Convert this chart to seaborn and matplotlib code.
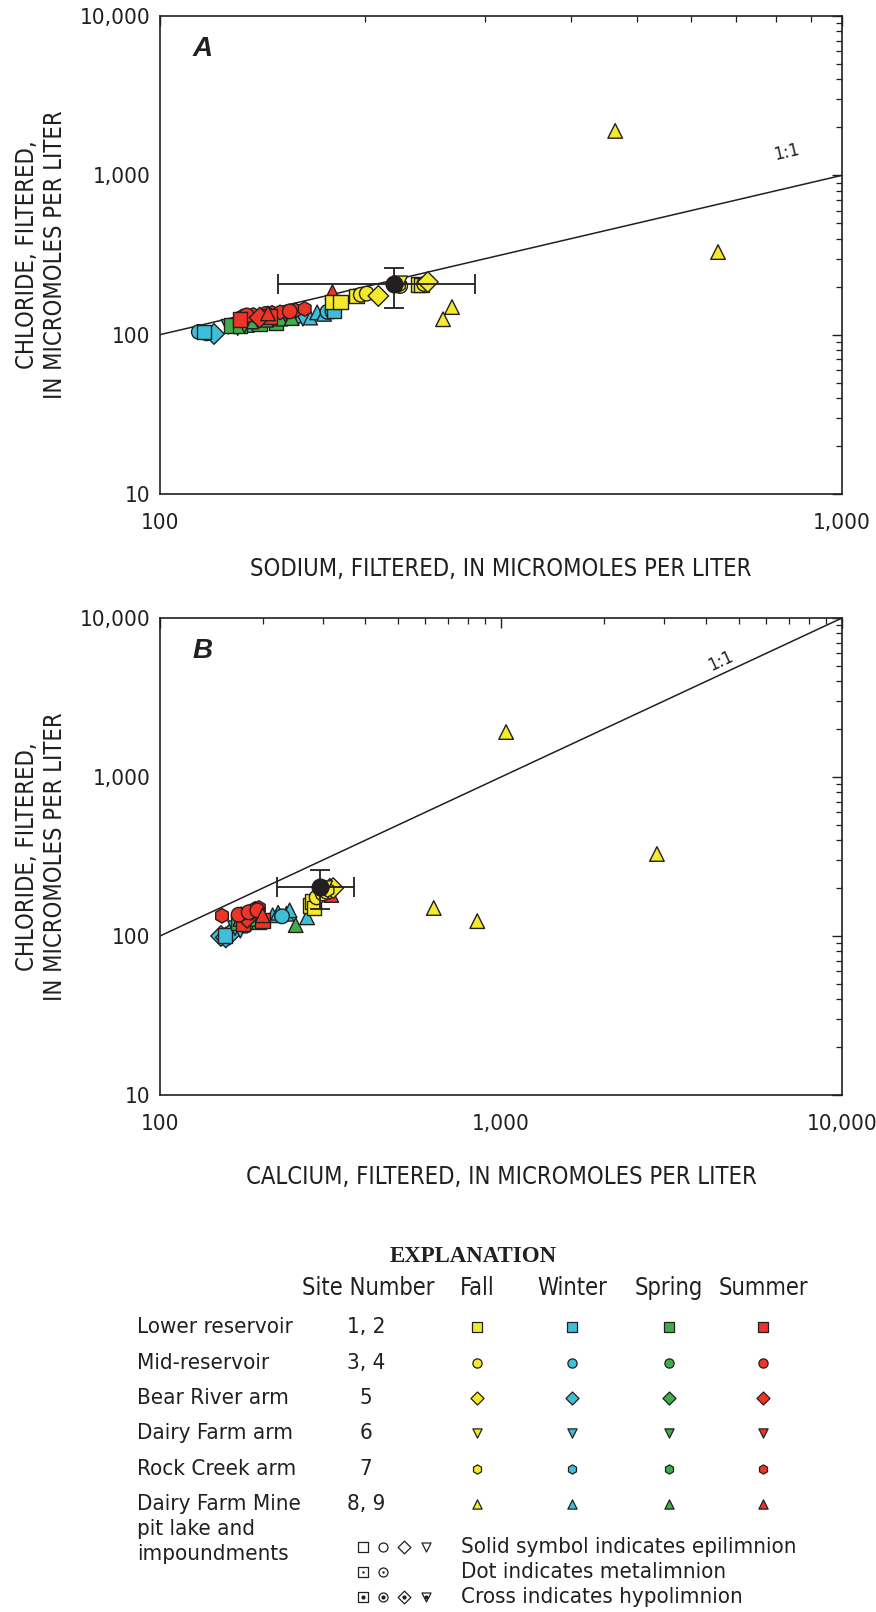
import numpy as np
import pandas as pd
import matplotlib
matplotlib.use("Agg")
import matplotlib.pyplot as plt
import seaborn as sns
from matplotlib import font_manager as fm
from matplotlib.ticker import FixedLocator, LogLocator, NullFormatter

sns.set_theme(style="white")


def pick_font():
    try:
        p = fm.findfont(fm.FontProperties(family='Liberation Sans Narrow'), fallback_to_default=False)
        if 'Narrow' in p:
            return ['Liberation Sans Narrow', 'DejaVu Sans'], 'normal'
    except Exception:
        pass
    try:
        p = fm.findfont(fm.FontProperties(family='DejaVu Sans', stretch='condensed'), fallback_to_default=False)
        if 'Condensed' in p:
            return ['DejaVu Sans'], 'condensed'
    except Exception:
        pass
    return ['Liberation Sans', 'DejaVu Sans'], 'normal'


NARROW, STRETCH = pick_font()
plt.rcParams['font.family'] = NARROW
plt.rcParams['font.stretch'] = STRETCH

# ---------------- data ----------------
# Panel A: sodium (x) vs chloride (y), micromoles per liter
a_site = (['Mid-reservoir', 'Mid-reservoir', 'Bear River arm', 'Lower reservoir', 'Dairy Farm arm', 'Dairy Farm arm',
           'Dairy Farm Mine', 'Dairy Farm Mine', 'Dairy Farm Mine', 'Dairy Farm Mine', 'Dairy Farm Mine', 'Dairy Farm Mine',
           'Dairy Farm Mine', 'Dairy Farm Mine', 'Mid-reservoir', 'Mid-reservoir', 'Lower reservoir', 'Dairy Farm arm']
          + ['Lower reservoir', 'Lower reservoir', 'Lower reservoir', 'Lower reservoir', 'Dairy Farm Mine', 'Dairy Farm Mine',
             'Dairy Farm Mine', 'Dairy Farm Mine', 'Dairy Farm arm']
          + ['Rock Creek arm', 'Rock Creek arm', 'Rock Creek arm', 'Rock Creek arm', 'Rock Creek arm', 'Rock Creek arm',
             'Mid-reservoir', 'Mid-reservoir', 'Mid-reservoir', 'Lower reservoir', 'Lower reservoir', 'Bear River arm',
             'Dairy Farm Mine', 'Dairy Farm Mine']
          + ['Lower reservoir', 'Lower reservoir', 'Lower reservoir', 'Lower reservoir', 'Lower reservoir', 'Mid-reservoir',
             'Mid-reservoir', 'Mid-reservoir', 'Mid-reservoir', 'Bear River arm', 'Bear River arm', 'Rock Creek arm',
             'Dairy Farm arm', 'Dairy Farm Mine', 'Dairy Farm Mine', 'Dairy Farm Mine', 'Dairy Farm Mine'])
a_season = ['Winter'] * 18 + ['Spring'] * 9 + ['Summer'] * 14 + ['Fall'] * 17
a_sodium = ([114, 117, 120, 116, 130, 126, 134, 140, 151, 156, 161, 166, 170, 174, 176, 179, 180, 162]
            + [127, 131, 140, 148, 136, 143, 150, 156, 133]
            + [132, 137, 146, 150, 158, 163, 134, 143, 155, 131, 145, 140, 144, 179]
            + [179, 184, 194, 239, 242, 197, 201, 225, 244, 209, 247, 224, 225, 268, 260, 465, 658])
a_chloride = ([104, 102, 101, 104, 110, 112, 115, 118, 127, 130, 132, 128, 138, 135, 139, 140, 141, 126]
              + [114, 113, 117, 119, 121, 124, 126, 127, 114]
              + [130, 133, 137, 138, 142, 145, 132, 135, 140, 125, 130, 128, 136, 185]
              + [160, 160, 175, 207, 205, 178, 181, 202, 208, 175, 214, 205, 210, 149, 125, 1900, 330])
a_mean = (220, 208)
a_mean_xrange = (149, 290)
a_mean_yrange = (147, 262)

# Panel B: calcium (x) vs chloride (y)
b_site = (['Bear River arm', 'Bear River arm', 'Bear River arm', 'Lower reservoir', 'Dairy Farm arm', 'Dairy Farm arm',
           'Dairy Farm Mine', 'Dairy Farm Mine', 'Dairy Farm Mine', 'Dairy Farm Mine', 'Dairy Farm Mine',
           'Mid-reservoir', 'Mid-reservoir']
          + ['Lower reservoir', 'Lower reservoir', 'Dairy Farm arm', 'Dairy Farm Mine', 'Dairy Farm Mine',
             'Dairy Farm Mine', 'Dairy Farm Mine']
          + ['Lower reservoir', 'Lower reservoir', 'Bear River arm', 'Rock Creek arm', 'Rock Creek arm', 'Rock Creek arm',
             'Rock Creek arm', 'Rock Creek arm', 'Mid-reservoir', 'Mid-reservoir', 'Mid-reservoir',
             'Dairy Farm Mine', 'Dairy Farm Mine']
          + ['Lower reservoir', 'Lower reservoir', 'Lower reservoir', 'Mid-reservoir', 'Mid-reservoir', 'Mid-reservoir',
             'Bear River arm', 'Bear River arm', 'Rock Creek arm', 'Dairy Farm arm', 'Dairy Farm Mine', 'Dairy Farm Mine',
             'Dairy Farm Mine', 'Dairy Farm Mine'])
b_season = ['Winter'] * 13 + ['Spring'] * 7 + ['Summer'] * 13 + ['Fall'] * 14
b_calcium = ([151, 156, 160, 155, 166, 172, 214, 222, 235, 240, 270, 228, 178]
             + [170, 195, 180, 172, 192, 200, 250]
             + [175, 200, 180, 152, 173, 185, 190, 195, 170, 182, 193, 200, 318]
             + [275, 280, 283, 288, 300, 308, 315, 322, 310, 305, 1035, 2866, 635, 852])
b_chloride = ([100, 98, 102, 101, 112, 108, 135, 140, 138, 145, 131, 133, 116]
              + [122, 123, 118, 128, 128, 130, 117]
              + [120, 125, 130, 134, 137, 140, 148, 150, 136, 141, 145, 135, 181]
              + [155, 165, 150, 175, 185, 190, 198, 200, 195, 200, 1918, 328, 150, 124])
b_mean = (294, 203)
b_mean_xrange = (220, 371)
b_mean_yrange = (148, 260)

seasons = ['Fall', 'Winter', 'Spring', 'Summer']
season_colors = ['#f4ea2c', '#3dbfd9', '#3fae4a', '#ee3327']
sites = ['Lower reservoir', 'Mid-reservoir', 'Bear River arm', 'Dairy Farm arm', 'Rock Creek arm', 'Dairy Farm Mine']
site_numbers = ['1, 2', '3, 4', '5', '6', '7', '8, 9']
site_markers = ['s', 'o', 'D', 'v', 'h', '^']
tick_values = [10, 100, 1000, 10000]
tick_labels = ['10', '100', '1,000', '10,000']

palette = dict(zip(seasons, season_colors))
markers = dict(zip(sites, site_markers))
EDGE = '#231f20'

W, H = 876, 1612
fig = plt.figure(figsize=(W / 100, H / 100), dpi=100)


def fx(px):
    return px / W


def fy(py):
    return 1 - py / H


def setup_axes(ax, xmax):
    ax.set_xscale('log')
    ax.set_yscale('log')
    ax.set_xlim(100, xmax)
    ax.set_ylim(10, 10000)
    xt = [v for v in tick_values if 100 <= v <= xmax]
    ax.xaxis.set_major_locator(FixedLocator(xt))
    ax.set_xticklabels([tick_labels[tick_values.index(v)] for v in xt])
    ax.yaxis.set_major_locator(FixedLocator(tick_values))
    ax.set_yticklabels(tick_labels)
    ax.xaxis.set_minor_locator(LogLocator(base=10, subs=np.arange(2, 10)))
    ax.yaxis.set_minor_locator(LogLocator(base=10, subs=np.arange(2, 10)))
    ax.xaxis.set_minor_formatter(NullFormatter())
    ax.yaxis.set_minor_formatter(NullFormatter())
    ax.tick_params(which='both', direction='in', top=True, right=True, colors='#231f20',
                   labelcolor='#231f20', labelsize=16)
    ax.tick_params(which='major', length=7, width=1.0)
    ax.tick_params(which='minor', length=4, width=0.9)
    ax.tick_params(axis='y', pad=7)
    ax.tick_params(axis='x', pad=14)
    for sp in ax.spines.values():
        sp.set_color('#231f20')
        sp.set_linewidth(1.2)
        sp.set_visible(True)
    ax.set_facecolor('white')


def draw_panel(ax, xs, ys, site, season, xlabel, xmax, mean, xr, yr, letter, lbl_pos, lbl_rot, xlabelpad):
    df = pd.DataFrame({'x': xs, 'y': ys, 'site': site, 'season': season})
    ax.plot([100, xmax], [100, xmax], color='#231f20', lw=1.1, zorder=1)
    ax.text(lbl_pos[0], lbl_pos[1], '1:1', rotation=lbl_rot, fontsize=13, color='#231f20',
            ha='center', va='center')
    sns.scatterplot(data=df, x='x', y='y', hue='season', style='site', palette=palette, markers=markers,
                    hue_order=seasons, style_order=sites, s=110, edgecolor=EDGE, linewidth=1.0,
                    legend=False, ax=ax, zorder=3)
    ax.errorbar([mean[0]], [mean[1]],
                xerr=[[mean[0] - xr[0]], [xr[1] - mean[0]]],
                yerr=[[mean[1] - yr[0]], [yr[1] - mean[1]]],
                fmt='o', color='#231f20', ms=12, capsize=7, elinewidth=1.3, capthick=1.3, zorder=4)
    setup_axes(ax, xmax)
    ax.set_xlabel(xlabel, fontsize=17, color='#231f20', labelpad=xlabelpad)
    ax.set_ylabel('CHLORIDE, FILTERED,\nIN MICROMOLES PER LITER', fontsize=17, color='#231f20',
                  labelpad=9, linespacing=1.2)
    ax.text(0.048, 0.93, letter, transform=ax.transAxes, fontsize=20, fontweight='bold',
            fontstyle='italic', family=['Liberation Sans', 'DejaVu Sans'], fontstretch='normal',
            color='#231f20', ha='left', va='center')


axA = fig.add_axes([fx(160), fy(494), (842 - 160) / W, (494 - 16) / H])
draw_panel(axA, a_sodium, a_chloride, a_site, a_season, 'SODIUM, FILTERED, IN MICROMOLES PER LITER',
           1000, a_mean, a_mean_xrange, a_mean_yrange, 'A', (830, 1400), 13, 17)

axB = fig.add_axes([fx(160), fy(1095), (842 - 160) / W, (1095 - 618) / H])
draw_panel(axB, b_calcium, b_chloride, b_site, b_season, 'CALCIUM, FILTERED, IN MICROMOLES PER LITER',
           10000, b_mean, b_mean_xrange, b_mean_yrange, 'B', (4400, 5400), 25, 22)

# ---------------- explanation ----------------
lg = fig.add_axes([0, 0, 1, 1], zorder=-1)
lg.set_xlim(0, W)
lg.set_ylim(H, 0)
lg.axis('off')

TC = '#231f20'
lg.text(473, 1256, 'EXPLANATION', ha='center', va='center', fontsize=16.5, fontweight='bold',
        family=['Liberation Serif', 'DejaVu Serif'], fontstretch='normal', color=TC)
col_x = [477, 572, 669, 763]
lg.text(368, 1288, 'Site Number', ha='center', va='center', fontsize=17, color=TC)
for cx, sname in zip(col_x, seasons):
    lg.text(cx, 1288, sname, ha='center', va='center', fontsize=17, color=TC)

row_y = [1327, 1363, 1398, 1433, 1469, 1504]
for ry, sname, snum, mk in zip(row_y, sites, site_numbers, site_markers):
    lg.text(137, ry, sname, ha='left', va='center', fontsize=16, color=TC)
    lg.text(366, ry, snum, ha='center', va='center', fontsize=16, color=TC)
    for cx, col in zip(col_x, season_colors):
        lg.scatter([cx], [ry], marker=mk, s=44, c=[col], edgecolors=EDGE, linewidths=0.9)
lg.text(137, 1529, 'pit lake and', ha='left', va='center', fontsize=16, color=TC)
lg.text(137, 1554, 'impoundments', ha='left', va='center', fontsize=16, color=TC)

sym_x = [363, 383, 404, 426]
sym_rows = [1547, 1572, 1597]
sym_mk = [['s', 'o', 'D', 'v'], ['s', 'o'], ['s', 'o', 'D', 'v']]
sym_txt = ['Solid symbol indicates epilimnion', 'Dot indicates metalimnion', 'Cross indicates hypolimnion']
for k, (ry, mks, txt) in enumerate(zip(sym_rows, sym_mk, sym_txt)):
    for cx, mk in zip(sym_x, mks):
        lg.scatter([cx], [ry], marker=mk, s=42, c='white', edgecolors=EDGE, linewidths=0.9)
        if k == 1:
            lg.scatter([cx], [ry], marker='o', s=3, c=EDGE, linewidths=0)
        elif k == 2:
            lg.scatter([cx], [ry], marker='o', s=9, c=EDGE, linewidths=0)
    lg.text(461, ry, txt, ha='left', va='center', fontsize=16, color=TC)

fig.savefig('out.png', dpi=100, facecolor='white')
